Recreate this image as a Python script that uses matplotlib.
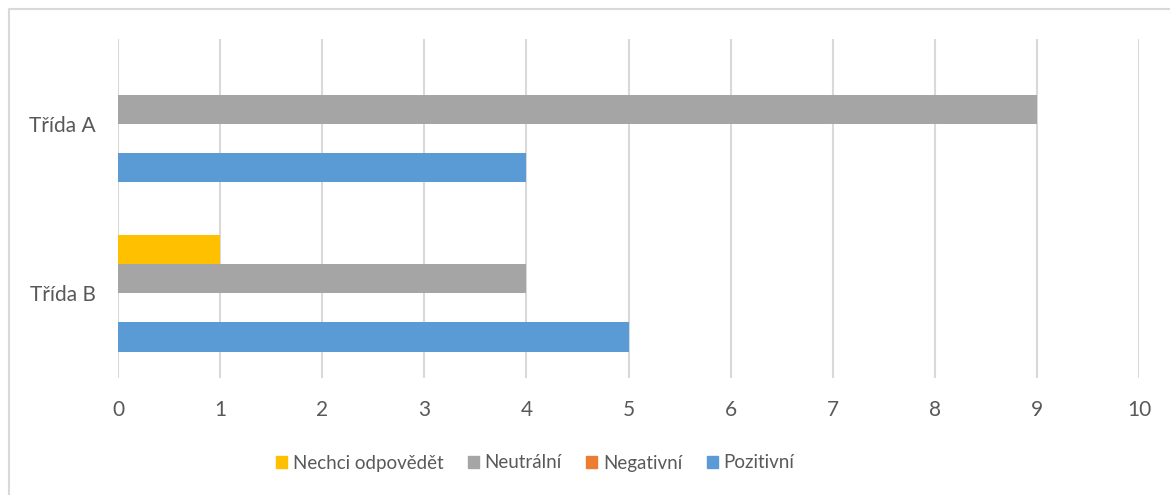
import matplotlib.pyplot as plt
from matplotlib.patches import Patch
from matplotlib.lines import Line2D
import numpy as np

plt.rcParams['font.family'] = ['Lato', 'DejaVu Sans']

categories = ['Třída B', 'Třída A']
series = ['Pozitivní', 'Negativní', 'Neutrální', 'Nechci odpovědět']
values = {
    'Pozitivní': [5, 4],
    'Negativní': [0, 0],
    'Neutrální': [4, 9],
    'Nechci odpovědět': [1, 0],
}
colors = {
    'Pozitivní': '#5B9BD5',
    'Negativní': '#ED7D31',
    'Neutrální': '#A5A5A5',
    'Nechci odpovědět': '#FFC000',
}
xticks = list(range(0, 11))

text_col = '#595959'

fig = plt.figure(figsize=(11.7, 4.95), dpi=100)
ax = fig.add_axes([118 / 1170, 1 - 378 / 495, (1139 - 118) / 1170, (378 - 39) / 495])

y = np.arange(len(categories)) + 0.5
h = 0.172
for i, s in enumerate(series):
    ax.barh(y + (i - 1.5) * h, values[s], height=h, color=colors[s], label=s, zorder=3)

ax.set_xlim(0, 10)
ax.set_ylim(0, 2)
ax.set_xticks(xticks)
ax.set_yticks(y)
ax.set_yticklabels(categories)
ax.tick_params(axis='both', length=0, labelsize=15, colors=text_col)
ax.tick_params(axis='x', pad=16)
ax.tick_params(axis='y', pad=16)
ax.grid(axis='x', color='#D9D9D9', linewidth=1.5, zorder=0)
for sp in ax.spines.values():
    sp.set_visible(False)

handles = [Patch(color=colors[s]) for s in series[::-1]]
fig.legend(handles, series[::-1], loc='center', bbox_to_anchor=(535 / 1170, 1 - 463 / 495),
           ncol=4, frameon=False, fontsize=13.5, labelcolor=text_col,
           handlelength=0.6, handleheight=0.6, handletextpad=0.3, columnspacing=1.3)

# chart area border (only left and top edges visible)
fig.add_artist(Line2D([9 / 1170, 9 / 1170, 1], [0, 1 - 9 / 495, 1 - 9 / 495],
                      transform=fig.transFigure, color='#D9D9D9', linewidth=1.5))

fig.savefig('out.png', dpi=100)
